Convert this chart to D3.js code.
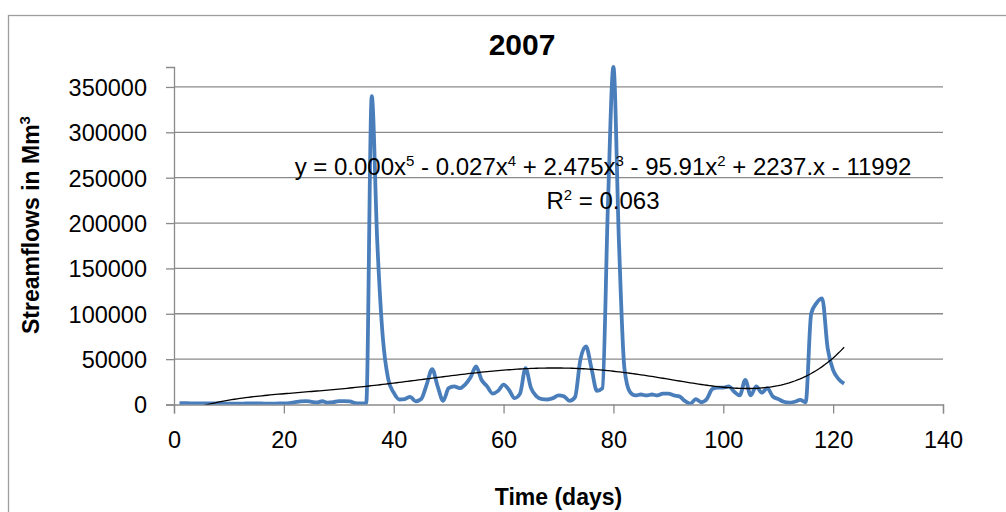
<!DOCTYPE html>
<html>
<head>
<meta charset="utf-8">
<script src="https://cdn.jsdelivr.net/npm/d3@7"></script>
<style>
  body { margin: 0; background: #fff; }
  svg { display: block; font-family: "Liberation Sans", Arial, sans-serif; }
</style>
</head>
<body>
<div id="chart"></div>
<script>
// --- Data ---
const chartTitle = "2007";
const xLabel = "Time (days)";
const xTicks = [0, 20, 40, 60, 80, 100, 120, 140];
const yTicks = [0, 50000, 100000, 150000, 200000, 250000, 300000, 350000];

// daily streamflow, day 1 .. day 122
const streamflow = [
  1500, 1400, 1300, 1300, 1200, 1200, 1100, 1100, 1000, 1000,
  1000, 1000, 1100, 1200, 1200, 1100, 1000, 1000, 1100, 1200,
  1500, 2500, 3500, 3800, 3000, 2200, 3600, 2000, 2500, 3800,
  3800, 3500, 1500, 1200, 1500, 340000, 180000, 75000, 28000, 13000,
  5500, 6000, 8500, 3500, 6000, 22000, 39000, 20000, 4000, 18000,
  20000, 18000, 22000, 30000, 42000, 27000, 20000, 12000, 15000, 22000,
  16000, 7000, 12000, 40000, 18000, 9000, 6000, 5500, 7000, 10000,
  9000, 4000, 8000, 50000, 64000, 40000, 15000, 18000, 220000, 372000,
  180000, 40000, 14000, 10000, 11000, 10000, 11000, 10000, 12000, 12000,
  10000, 9000, 4000, 1000, 6000, 2500, 6000, 17000, 18500, 18500,
  20000, 14000, 10000, 27000, 10000, 20000, 13000, 18000, 9000, 6000,
  3000, 2000, 3000, 5000, 2500, 100000, 112000, 117000, 62000, 38000,
  28000, 23000
];

// trendline label, as printed on the chart ([text, superscript])
const eqParts = [
  ["y = 0.000x", "5"], [" - 0.027x", "4"], [" + 2.475x", "3"],
  [" - 95.91x", "2"], [" + 2237.x - 11992", ""]
];
const r2Parts = [["R", "2"], [" = 0.063", ""]];

const points = streamflow.map((v, i) => ({ day: i + 1, value: v }));

// --- Sizes ---
const W = 1006, H = 512;
const plot = { left: 174, right: 943, top: 67, bottom: 404.5 };

const svg = d3.select("#chart").append("svg")
    .attr("width", W)
    .attr("height", H);

// outer chart frame (cropped on the right and bottom)
svg.append("rect")
    .attr("x", 8.5).attr("y", 15.5)
    .attr("width", 1100).attr("height", 600)
    .attr("fill", "none")
    .attr("stroke", "#9d9d9d")
    .attr("stroke-width", 1.3);

// --- Scales ---
const x = d3.scaleLinear().domain([0, 140]).range([plot.left, plot.right]);
const y = d3.scaleLinear().domain([0, 372000]).range([plot.bottom, plot.top]);

const gridColor = "#8a8a8a";

// gridlines
svg.append("g")
  .selectAll("line")
  .data(yTicks.filter(d => d > 0))
  .join("line")
    .attr("x1", plot.left).attr("x2", plot.right)
    .attr("y1", d => y(d)).attr("y2", d => y(d))
    .attr("stroke", gridColor)
    .attr("stroke-width", 1.3);

// y axis
const yAxis = svg.append("g")
    .attr("transform", `translate(${plot.left},0)`)
    .call(d3.axisLeft(y).tickValues(yTicks).tickSize(8).tickPadding(19).tickFormat(d3.format("d")));

// x axis
const xAxis = svg.append("g")
    .attr("transform", `translate(0,${plot.bottom})`)
    .call(d3.axisBottom(x).tickValues(xTicks).tickSize(9).tickPadding(18).tickFormat(d3.format("d")));

[yAxis, xAxis].forEach(g => {
  g.select(".domain").attr("stroke", gridColor).attr("stroke-width", 1.3);
  g.selectAll(".tick line").attr("stroke", gridColor).attr("stroke-width", 1.3);
  g.selectAll(".tick text")
    .attr("fill", "#000")
    .style("font-family", "'Liberation Sans', Arial, sans-serif")
    .style("font-size", "23.5px");
});
yAxis.selectAll(".tick text").attr("dy", "0.36em");

// --- Clip to plot area ---
svg.append("clipPath").attr("id", "plotClip")
  .append("rect")
    .attr("x", plot.left).attr("y", plot.top - 2)
    .attr("width", plot.right - plot.left)
    .attr("height", plot.bottom - plot.top + 2);

// --- Streamflow line ---
const line = d3.line()
    .x(d => x(d.day))
    .y(d => y(d.value))
    .curve(d3.curveMonotoneX);

svg.append("path")
    .datum(points)
    .attr("clip-path", "url(#plotClip)")
    .attr("fill", "none")
    .attr("stroke", "#4a7ebb")
    .attr("stroke-width", 3.8)
    .attr("stroke-linejoin", "round")
    .attr("d", line);

// --- Polynomial trendline (order 5 least squares fit of the series) ---
const fitPoly = (pts, deg) => {
  const n = deg + 1;
  const A = Array.from({ length: n }, () => new Array(n + 1).fill(0));
  pts.forEach(p => {
    const t = p.day / 100;
    const pw = [];
    for (let k = 0; k < 2 * n; k++) pw.push(Math.pow(t, k));
    for (let r = 0; r < n; r++) {
      for (let c = 0; c < n; c++) A[r][c] += pw[r + c];
      A[r][n] += pw[r] * p.value;
    }
  });
  for (let col = 0; col < n; col++) {
    let piv = col;
    for (let r = col + 1; r < n; r++) if (Math.abs(A[r][col]) > Math.abs(A[piv][col])) piv = r;
    [A[col], A[piv]] = [A[piv], A[col]];
    for (let r = 0; r < n; r++) {
      if (r === col) continue;
      const f = A[r][col] / A[col][col];
      for (let c = col; c <= n; c++) A[r][c] -= f * A[col][c];
    }
  }
  const coef = A.map((row, i) => row[n] / row[i]);
  return d => coef.reduce((s, c, k) => s + c * Math.pow(d / 100, k), 0);
};
const trend = fitPoly(points, 5);
const trendPts = d3.range(1, 122.01, 0.5).map(d => ({ day: d, value: trend(d) }));

svg.append("path")
    .datum(trendPts)
    .attr("clip-path", "url(#plotClip)")
    .attr("fill", "none")
    .attr("stroke", "#000")
    .attr("stroke-width", 1.3)
    .attr("d", d3.line().x(d => x(d.day)).y(d => y(d.value)));

// --- Trendline label ---
const addSupText = (parts, cx, baseY) => {
  const t = svg.append("text")
      .attr("x", cx).attr("y", baseY)
      .attr("text-anchor", "middle")
      .style("font-size", "24px")
      .attr("fill", "#000");
  let shift = 0;   // undo the raise of the previous superscript
  parts.forEach(([main, sup]) => {
    t.append("tspan").attr("dy", shift).text(main);
    shift = 0;
    if (sup) {
      t.append("tspan").attr("dy", -9).style("font-size", "15px").text(sup);
      shift = 9;
    }
  });
  return t;
};
addSupText(eqParts, 603, 175);
addSupText(r2Parts, 603, 209);

// --- Titles ---
svg.append("text")
    .attr("x", 522).attr("y", 55)
    .attr("text-anchor", "middle")
    .style("font-size", "30px")
    .style("font-weight", "bold")
    .text(chartTitle);

svg.append("text")
    .attr("x", (plot.left + plot.right) / 2).attr("y", 505)
    .attr("text-anchor", "middle")
    .style("font-size", "23px")
    .style("font-weight", "bold")
    .text(xLabel);

const yl = svg.append("text")
    .attr("transform", "translate(39,225) rotate(-90)")
    .attr("text-anchor", "middle")
    .style("font-size", "23px")
    .style("font-weight", "bold");
yl.append("tspan").text("Streamflows in Mm");
yl.append("tspan").attr("dy", -9).style("font-size", "15px").text("3");
</script>
</body>
</html>
